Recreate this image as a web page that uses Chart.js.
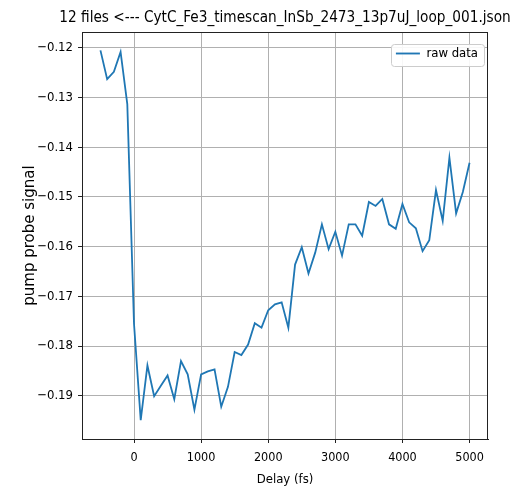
<!DOCTYPE html>
<html>
<head>
<meta charset="utf-8">
<script src="https://cdn.jsdelivr.net/npm/chart.js@4.4.0/dist/chart.umd.min.js"></script>
<style>
  html, body { margin: 0; padding: 0; background: #fff; }
  canvas { display: block; }
</style>
</head>
<body>
<canvas id="scan" width="516" height="487"></canvas>
<script>
// delay points in fs, one every 100 fs
const delays = [];
for (let d = -500; d <= 5000; d += 100) delays.push(d);

// values
const rawData = [
  -0.1205, -0.1263, -0.1248, -0.1208, -0.1313, -0.1755,
  -0.1949, -0.1839, -0.1901, -0.1880, -0.1859, -0.1907,
  -0.1830, -0.1857, -0.1928, -0.1857, -0.1851, -0.1847,
  -0.1922, -0.1882, -0.1812, -0.1818, -0.1797, -0.1754,
  -0.1763, -0.1728, -0.1716, -0.1712, -0.1763, -0.1636,
  -0.1601, -0.1654, -0.1612, -0.1555, -0.1605, -0.1570,
  -0.1618, -0.1555, -0.1555, -0.1578, -0.1510, -0.1518,
  -0.1504, -0.1555, -0.1564, -0.1514, -0.1551, -0.1563,
  -0.1609, -0.1587, -0.1486, -0.1548, -0.1421, -0.1533,
  -0.1490, -0.1431
];

const xTicks = [0, 1000, 2000, 3000, 4000, 5000];
const yTicks = [-0.19, -0.18, -0.17, -0.16, -0.15, -0.14, -0.13, -0.12];

const titleText = '12 files <--- CytC_Fe3_timescan_InSb_2473_13p7uJ_loop_001.json';

const FONT = '"DejaVu Sans Condensed", "DejaVu Sans", sans-serif';
const LEGEND_FONT = { family: FONT, size: 13 };
const LEGEND_LINE = 24;

// text width of the legend label, used to place legend + its box
function legendTextWidth(chart) {
  const ctx = chart.ctx;
  ctx.save();
  ctx.font = LEGEND_FONT.size + 'px ' + FONT;
  const w = ctx.measureText(chart.data.datasets[0].label).width;
  ctx.restore();
  return w;
}

// title centred over the plot area, allowed to run wider than it
const plotTitle = {
  id: 'plotTitle',
  afterDraw(chart) {
    const ctx = chart.ctx;
    const a = chart.chartArea;
    ctx.save();
    ctx.font = '15.2px ' + FONT;
    ctx.fillStyle = '#000';
    ctx.textAlign = 'center';
    ctx.textBaseline = 'middle';
    ctx.fillText(titleText, (a.left + a.right) / 2, 18);
    ctx.restore();
  }
};

// move legend to the upper right corner of the plot
const legendPlacer = {
  id: 'legendPlacer',
  afterLayout(chart) {
    const lg = chart.legend;
    const a = chart.chartArea;
    const tw = legendTextWidth(chart);
    const boxRight = a.right - 4;
    const textX = boxRight - 6 - tw;
    const left = textX - LEGEND_FONT.size / 2 - LEGEND_LINE - 10;
    const w = lg.width, h = lg.height;
    lg.left = left; lg.right = left + w;
    lg.top = 37; lg.bottom = 37 + h;
    if (lg.adjustHitBoxes) lg.adjustHitBoxes();
  }
};

// frame round the plot plus the boxed legend, like matplotlib
const framePlugin = {
  id: 'frame',
  afterDraw(chart) {
    const ctx = chart.ctx;
    const a = chart.chartArea;
    const lg = chart.legend;
    ctx.save();
    ctx.strokeStyle = '#222';
    ctx.lineWidth = 1;
    ctx.strokeRect(a.left + 0.5, a.top + 0.5, a.right - a.left - 1, a.bottom - a.top);

    const tw = legendTextWidth(chart);
    const x = lg.left + 5, y = lg.top + 7;
    const right = lg.left + 10 + LEGEND_LINE + LEGEND_FONT.size / 2 + tw + 6;
    ctx.fillStyle = 'rgba(255,255,255,0.9)';
    ctx.strokeStyle = '#cccccc';
    ctx.beginPath();
    ctx.roundRect(Math.round(x) + 0.5, y + 0.5, Math.round(right - x), 22, 3);
    ctx.fill();
    ctx.stroke();
    ctx.restore();
    lg.draw();
  }
};

new Chart(document.getElementById('scan').getContext('2d'), {
  type: 'line',
  data: {
    labels: delays,
    datasets: [{
      label: 'raw data',
      data: delays.map((d, i) => ({ x: d, y: rawData[i] })),
      borderColor: '#1f77b4',
      backgroundColor: '#1f77b4',
      borderWidth: 1.8,
      pointRadius: 0,
      tension: 0,
      fill: false
    }]
  },
  options: {
    responsive: false,
    animation: false,
    layout: { padding: { left: 0, right: 28, top: 32, bottom: 0 } },
    plugins: {
      title: { display: false },
      legend: {
        position: 'chartArea',
        align: 'start',
        labels: {
          usePointStyle: true,
          pointStyle: 'line',
          pointStyleWidth: LEGEND_LINE,
          color: '#000',
          font: LEGEND_FONT,
          padding: 10
        }
      },
      tooltip: { enabled: false }
    },
    scales: {
      x: {
        type: 'linear',
        min: -775,
        max: 5275,
        afterBuildTicks(scale) { scale.ticks = xTicks.map(v => ({ value: v })); },
        afterFit(scale) { scale.height = 48; },
        ticks: {
          color: '#000',
          font: { family: FONT, size: 12.5 },
          padding: 7,
          maxRotation: 0,
          callback: v => String(v)
        },
        grid: { color: '#b0b0b0', lineWidth: 1, tickLength: 4, tickColor: '#222' },
        border: { color: '#222', width: 1 },
        title: {
          display: true,
          text: 'Delay (fs)',
          color: '#000',
          font: { family: FONT, size: 13 },
          padding: { top: 0, bottom: 0 }
        }
      },
      y: {
        type: 'linear',
        min: -0.1987,
        max: -0.1168,
        afterBuildTicks(scale) { scale.ticks = yTicks.map(v => ({ value: v })); },
        afterFit(scale) { scale.width = 82; },
        ticks: {
          color: '#000',
          font: { family: FONT, size: 13 },
          padding: 5,
          callback: v => v.toFixed(2).replace('-', '\u2212')
        },
        grid: { color: '#b0b0b0', lineWidth: 1, tickLength: 4, tickColor: '#222' },
        border: { color: '#222', width: 1 },
        title: {
          display: true,
          text: 'pump probe signal',
          color: '#000',
          font: { family: '"DejaVu Sans", sans-serif', size: 15 },
          padding: { top: 21, bottom: 0 }
        }
      }
    }
  },
  plugins: [legendPlacer, framePlugin, plotTitle]
});
</script>
</body>
</html>
